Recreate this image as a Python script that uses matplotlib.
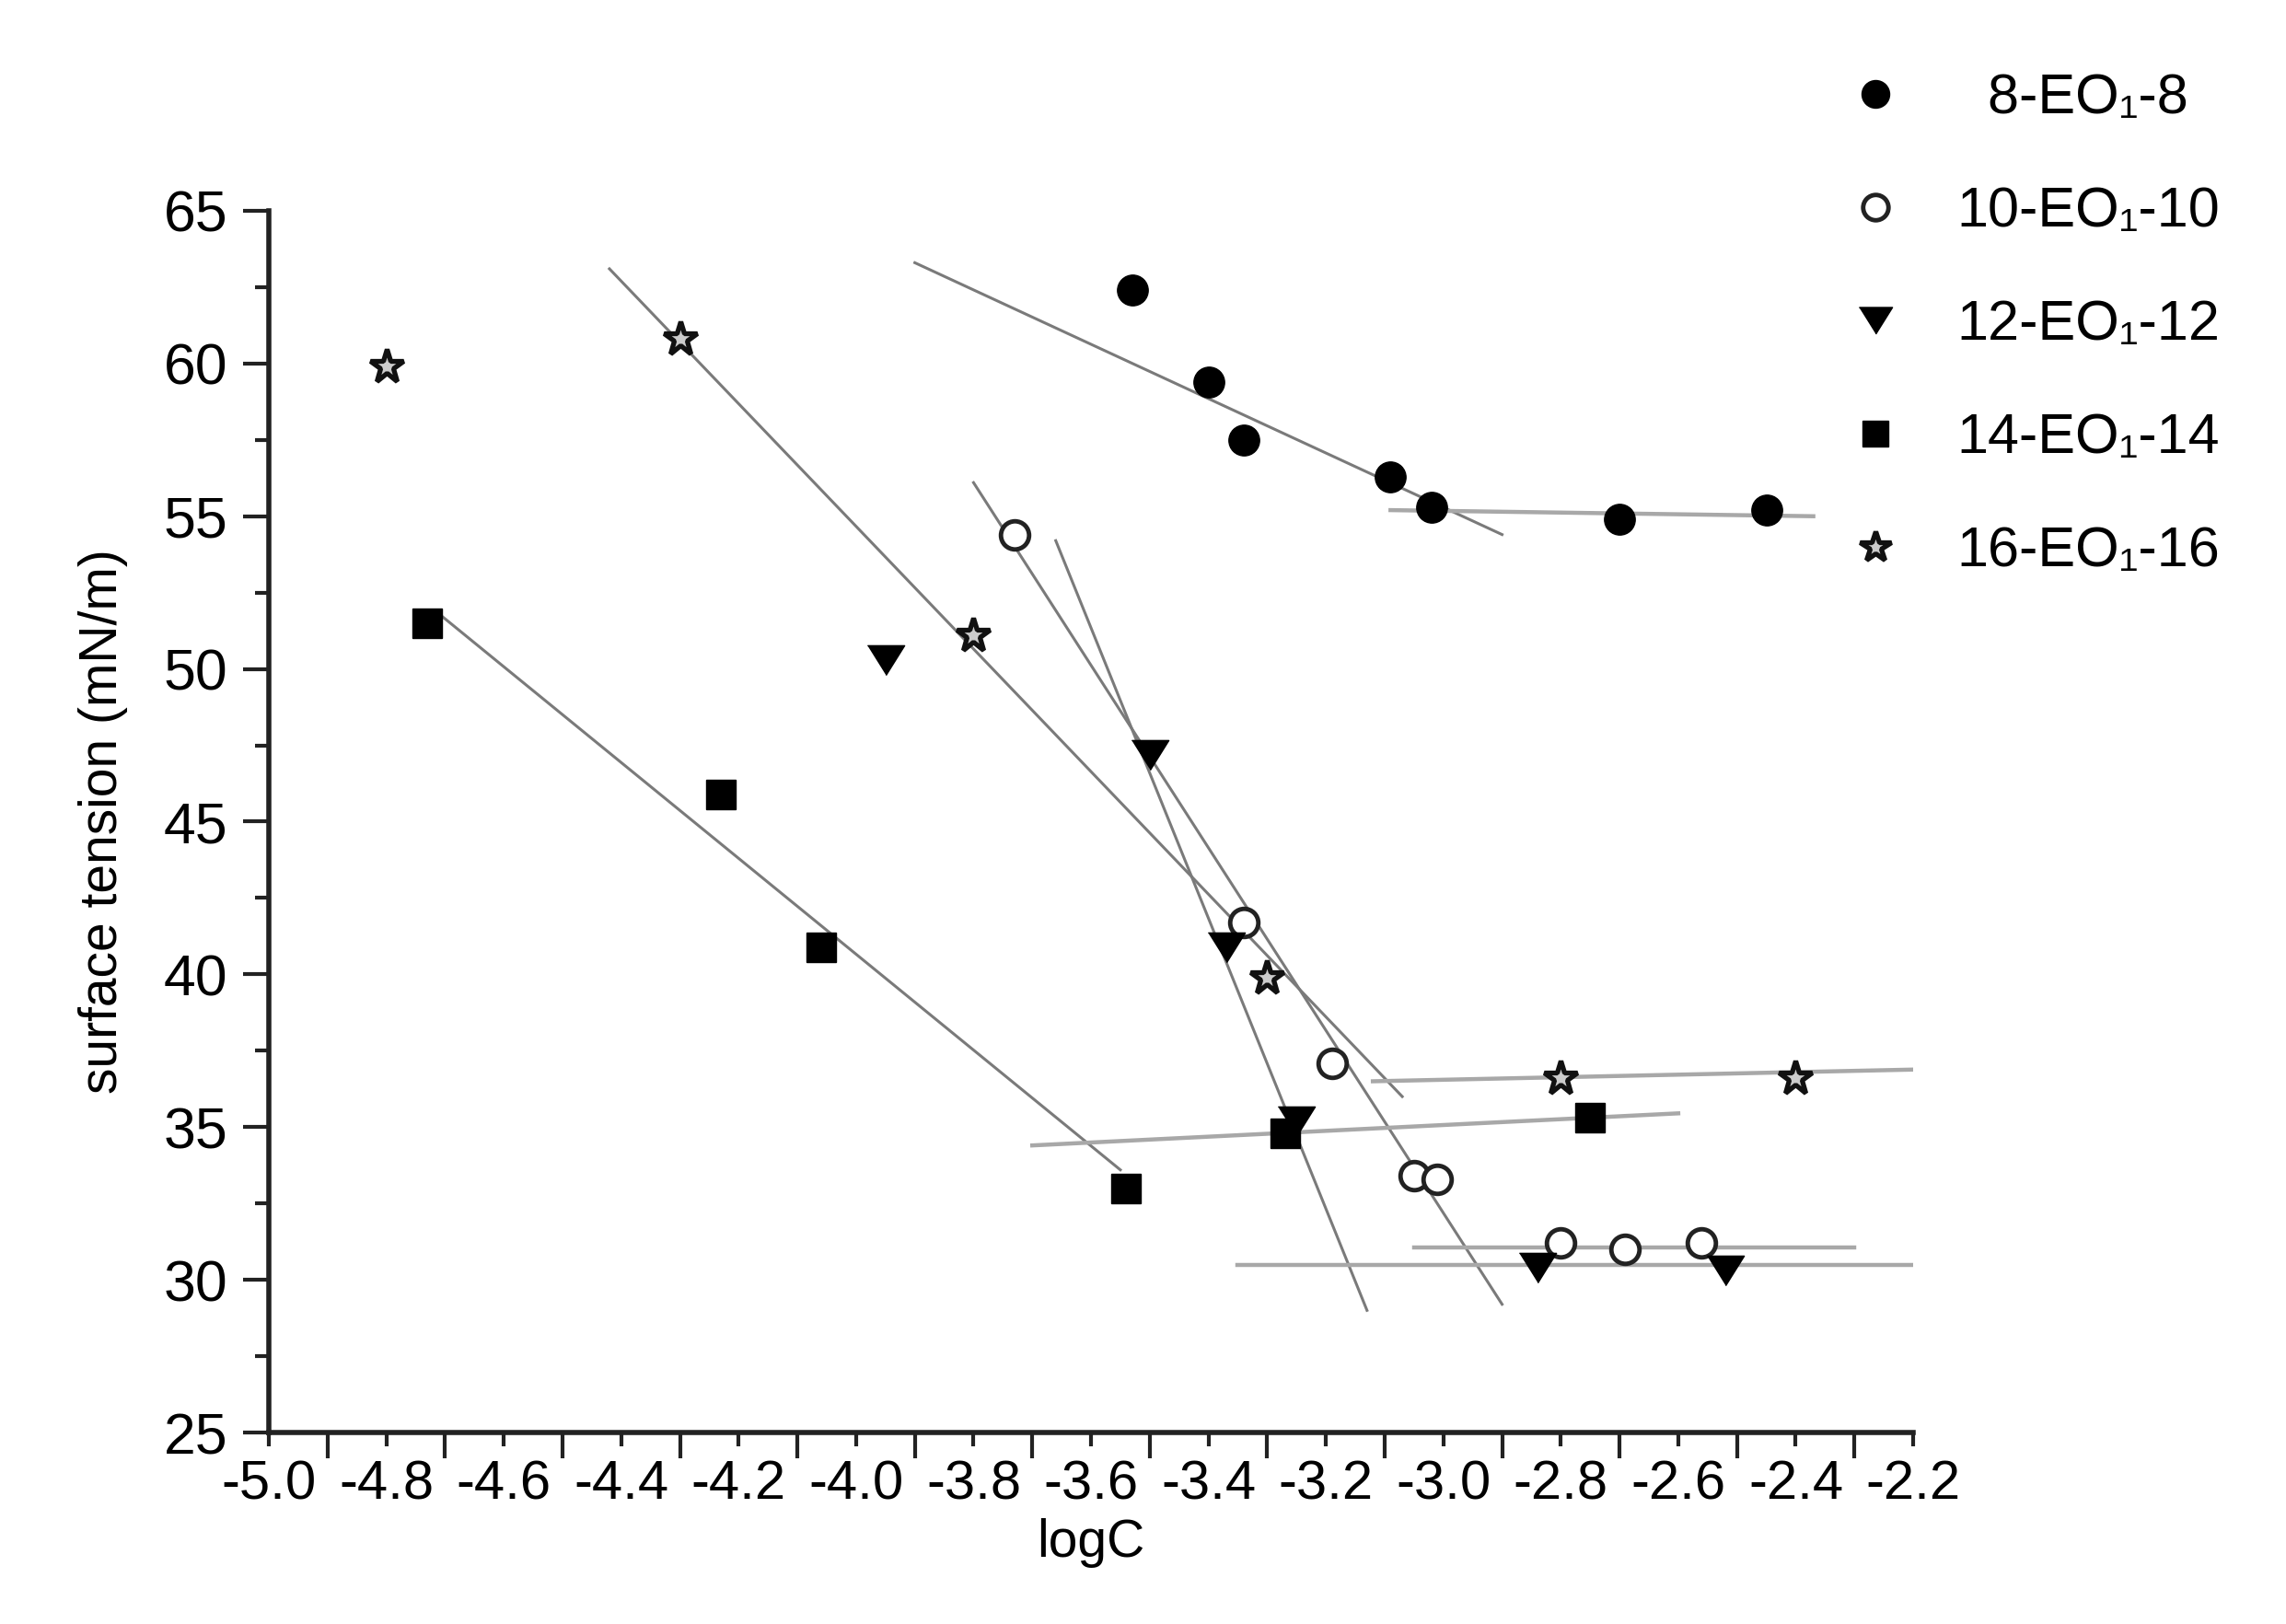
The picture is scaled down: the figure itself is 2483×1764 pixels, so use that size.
import numpy as np
import matplotlib
matplotlib.use("Agg")
import matplotlib.pyplot as plt
from matplotlib.ticker import MultipleLocator

plt.rcParams["font.family"] = ["Liberation Sans", "DejaVu Sans"]

# measured points, logC vs surface tension (mN/m)
logc_8 = [-3.53, -3.40, -3.34, -3.09, -3.02, -2.70, -2.45]
st_8 = [62.4, 59.4, 57.5, 56.3, 55.3, 54.9, 55.2]

logc_10 = [-3.73, -3.34, -3.19, -3.05, -3.01, -2.80, -2.69, -2.56]
st_10 = [54.4, 41.7, 37.1, 33.4, 33.3, 31.2, 31.0, 31.2]

logc_12 = [-3.95, -3.50, -3.37, -3.25, -2.84, -2.52]
st_12 = [50.3, 47.2, 40.9, 35.2, 30.4, 30.3]

logc_14 = [-4.73, -4.23, -4.06, -3.54, -3.27, -2.75]
st_14 = [51.5, 45.9, 40.9, 33.0, 34.8, 35.3]

logc_16 = [-4.80, -4.30, -3.80, -3.30, -2.80, -2.40]
st_16 = [59.9, 60.8, 51.1, 39.9, 36.6, 36.6]

# fitted lines (end points) : slope part and plateau part
fit_x = {
    "8": ([-3.90, -2.90], [-3.09, -2.37]),
    "10": ([-3.80, -2.90], [-3.05, -2.30]),
    "12": ([-3.66, -3.13], [-3.35, -2.17]),
    "14": ([-4.71, -3.55], [-3.70, -2.60]),
    "16": ([-4.42, -3.07], [-3.12, -2.16]),
}
fit_y = {
    "8": ([63.3, 54.4], [55.2, 55.0]),
    "10": ([56.1, 29.2], [31.06, 31.06]),
    "12": ([54.2, 29.0], [30.5, 30.5]),
    "14": ([51.8, 33.6], [34.4, 35.45]),
    "16": ([63.1, 36.0], [36.5, 36.9]),
}

labels = ["  8-EO\u2081-8", "10-EO\u2081-10", "12-EO\u2081-12",
          "14-EO\u2081-14", "16-EO\u2081-16"]

tri = [(-1.0, 0.8), (1.0, 0.8), (0.0, -0.8)]

fig = plt.figure(figsize=(24.83, 17.64), dpi=100)
ax = fig.add_axes([0.1176, 0.1179, 0.7193, 0.7523])

# fit lines first, under the markers
for key in fit_x:
    sx, px = fit_x[key]
    sy, py = fit_y[key]
    ax.plot(sx, sy, color="#7a7a7a", lw=2.2, zorder=2)
    ax.plot(px, py, color="#a8a8a8", lw=3.2, zorder=2)

ax.plot(logc_8, st_8, ls="none", marker="o", ms=24, mfc="black", mec="black",
        label=labels[0], zorder=3)
ax.plot(logc_10, st_10, ls="none", marker="o", ms=22, mfc="white", mec="#222222",
        mew=3.5, label=labels[1], zorder=3)
ax.plot(logc_12, st_12, ls="none", marker=tri, ms=29, mfc="black", mec="black",
        label=labels[2], zorder=3)
ax.plot(logc_14, st_14, ls="none", marker="s", ms=23, mfc="black", mec="black",
        label=labels[3], zorder=3)
ax.plot(logc_16, st_16, ls="none", marker="*", ms=28, mfc="#cccccc", mec="#111111",
        mew=3.8, label=labels[4], zorder=3)

ax.set_xlim(-5.0, -2.2)
ax.set_ylim(25, 65)

for s in ["top", "right"]:
    ax.spines[s].set_visible(False)
for s in ["left", "bottom"]:
    ax.spines[s].set_linewidth(4)
    ax.spines[s].set_color("#222222")

ax.xaxis.set_major_locator(MultipleLocator(0.2))
ax.xaxis.set_minor_locator(MultipleLocator(0.1))
ax.yaxis.set_major_locator(MultipleLocator(5))
ax.yaxis.set_minor_locator(MultipleLocator(2.5))

ax.set_xticks(np.round(np.arange(-5.0, -2.19, 0.2), 1))
ax.set_xticklabels(["%.1f" % v for v in np.arange(-5.0, -2.19, 0.2)])

ax.tick_params(axis="x", which="major", direction="out", length=11, width=3,
               labelsize=43, pad=10, color="#222222")
ax.tick_params(axis="x", which="minor", direction="out", length=20, width=3,
               color="#222222")
ax.tick_params(axis="y", which="major", direction="out", length=20, width=3,
               labelsize=45, pad=12, color="#222222")
ax.tick_params(axis="y", which="minor", direction="out", length=11, width=3,
               color="#222222")

ax.set_xlabel("logC", fontsize=41, labelpad=6)
ax.set_ylabel("surface tension (mN/m)", fontsize=41, labelpad=28)

leg = ax.legend(loc="upper left", bbox_to_anchor=(0.808, 0.955),
                bbox_transform=fig.transFigure, frameon=False, fontsize=44,
                handlelength=1.0, handletextpad=0.95, labelspacing=1.08,
                borderpad=0, borderaxespad=0, markerscale=0.9)

fig.savefig("out.png", dpi=100)
